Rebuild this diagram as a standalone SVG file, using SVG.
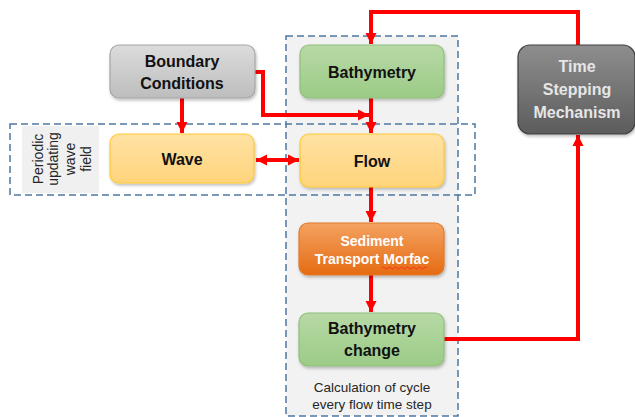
<svg xmlns="http://www.w3.org/2000/svg" width="635" height="417" viewBox="0 0 635 417">
<defs>
<linearGradient id="gGray" x1="0" y1="0" x2="0" y2="1"><stop offset="0" stop-color="#dcdcdc"/><stop offset="1" stop-color="#bdbdbd"/></linearGradient>
<linearGradient id="gGreen" x1="0" y1="0" x2="0" y2="1"><stop offset="0" stop-color="#b7d9a6"/><stop offset="1" stop-color="#9ccb86"/></linearGradient>
<linearGradient id="gYellow" x1="0" y1="0" x2="0" y2="1"><stop offset="0" stop-color="#ffe2a3"/><stop offset="1" stop-color="#ffd47c"/></linearGradient>
<linearGradient id="gOrange" x1="0" y1="0" x2="0" y2="1"><stop offset="0" stop-color="#f4a261"/><stop offset="1" stop-color="#e56b12"/></linearGradient>
<linearGradient id="gDark" x1="0" y1="0" x2="0" y2="1"><stop offset="0" stop-color="#8e8e8e"/><stop offset="1" stop-color="#5c5c5c"/></linearGradient>
<filter id="sh" x="-10%" y="-10%" width="120%" height="130%"><feDropShadow dx="1" dy="2" stdDeviation="1.5" flood-color="#000" flood-opacity="0.25"/></filter>
<marker id="ah" markerUnits="userSpaceOnUse" markerWidth="12" markerHeight="12" viewBox="0 0 12 12" refX="11" refY="6" orient="auto-start-reverse"><path d="M0,0.5 L11,6 L0,11.5 Z" fill="#ff0000"/></marker>
</defs>
<style>
.dash{fill:none;stroke:#4f78a3;stroke-width:1.5;stroke-dasharray:7,4}
.box{stroke-width:1.2;filter:url(#sh)}
.t{font-family:"Liberation Sans",Arial,sans-serif;font-weight:bold;text-anchor:middle;font-size:16px;fill:#111}
.c{stroke:#ff0000;stroke-width:4;fill:none}
.lbl{font-family:"Liberation Sans",Arial,sans-serif;text-anchor:middle;font-size:13.5px;fill:#262626}
.rot{font-family:"Liberation Sans",Arial,sans-serif;text-anchor:middle;font-size:14px;fill:#262626}
</style>
<g id="calc-frame">
<rect x="286" y="36" width="172" height="380" fill="#f2f2f2"/>
<rect x="286" y="36" width="172" height="380" class="dash"/>
<text class="lbl" x="372" y="392">Calculation of cycle</text>
<text class="lbl" x="372" y="409">every flow time step</text>
</g>
<g id="wave-frame">
<rect x="10" y="124" width="465" height="71" class="dash"/>
<rect x="22" y="126" width="77" height="67" fill="#f0f0f0"/>
<text class="rot" transform="translate(43,159) rotate(-90)">Periodic</text>
<text class="rot" transform="translate(58,159) rotate(-90)">updating</text>
<text class="rot" transform="translate(75,159) rotate(-90)">wave</text>
<text class="rot" transform="translate(91,159) rotate(-90)">field</text>
</g>
<g id="connectors">
<path class="c" d="M578,45 V12 H371 V44" marker-end="url(#ah)"/>
<path class="c" d="M371,98 V133" marker-end="url(#ah)"/>
<path class="c" d="M255,72 H263 V115 H369" marker-end="url(#ah)"/>
<path class="c" d="M182,98 V133" marker-end="url(#ah)"/>
<path class="c" d="M256,160 H299" marker-start="url(#ah)" marker-end="url(#ah)"/>
<path class="c" d="M371,187 V222" marker-end="url(#ah)"/>
<path class="c" d="M371,275 V312" marker-end="url(#ah)"/>
<path class="c" d="M444,339 H578 V135" marker-end="url(#ah)"/>
</g>
<g id="boundary">
<rect class="box" x="110" y="45" width="145" height="53" rx="9" fill="url(#gGray)" stroke="#a6a6a6"/>
<text class="t" x="182" y="67">Boundary</text>
<text class="t" x="182" y="89">Conditions</text>
</g>
<g id="bathymetry">
<rect class="box" x="300" y="45" width="144" height="53" rx="9" fill="url(#gGreen)" stroke="#8fbf7a"/>
<text class="t" x="372" y="78">Bathymetry</text>
</g>
<g id="wave">
<rect class="box" x="110" y="134" width="144" height="49" rx="9" fill="url(#gYellow)" stroke="#ffc933"/>
<text class="t" x="182" y="165">Wave</text>
</g>
<g id="flow">
<rect class="box" x="300" y="134" width="144" height="53" rx="9" fill="url(#gYellow)" stroke="#ffc933"/>
<text class="t" x="372" y="167">Flow</text>
</g>
<g id="sediment">
<rect class="box" x="299" y="223" width="145" height="52" rx="9" fill="url(#gOrange)" stroke="#e07a2c"/>
<text class="t" x="372" y="246" style="font-size:14px;fill:#fff">Sediment</text>
<text class="t" x="372" y="264" style="font-size:14px;fill:#fff">Transport Morfac</text>
<path d="M382,268 q1.5,-2 3,0 t3,0 t3,0 t3,0 t3,0 t3,0 t3,0 t3,0 t3,0 t3,0 t3,0 t3,0 t3,0 t3,0 t3,0" fill="none" stroke="#ff2020" stroke-width="0.8"/>
</g>
<g id="bathymetry-change">
<rect class="box" x="299" y="313" width="145" height="53" rx="9" fill="url(#gGreen)" stroke="#8fbf7a"/>
<text class="t" x="372" y="334">Bathymetry</text>
<text class="t" x="372" y="356">change</text>
</g>
<g id="time-stepping">
<rect class="box" x="518" y="45" width="117" height="89" rx="12" fill="url(#gDark)" stroke="#404040"/>
<text class="t" x="577" y="72" style="fill:#e6e6e6">Time</text>
<text class="t" x="577" y="95" style="fill:#e6e6e6">Stepping</text>
<text class="t" x="577" y="118" style="fill:#e6e6e6">Mechanism</text>
</g>
</svg>
